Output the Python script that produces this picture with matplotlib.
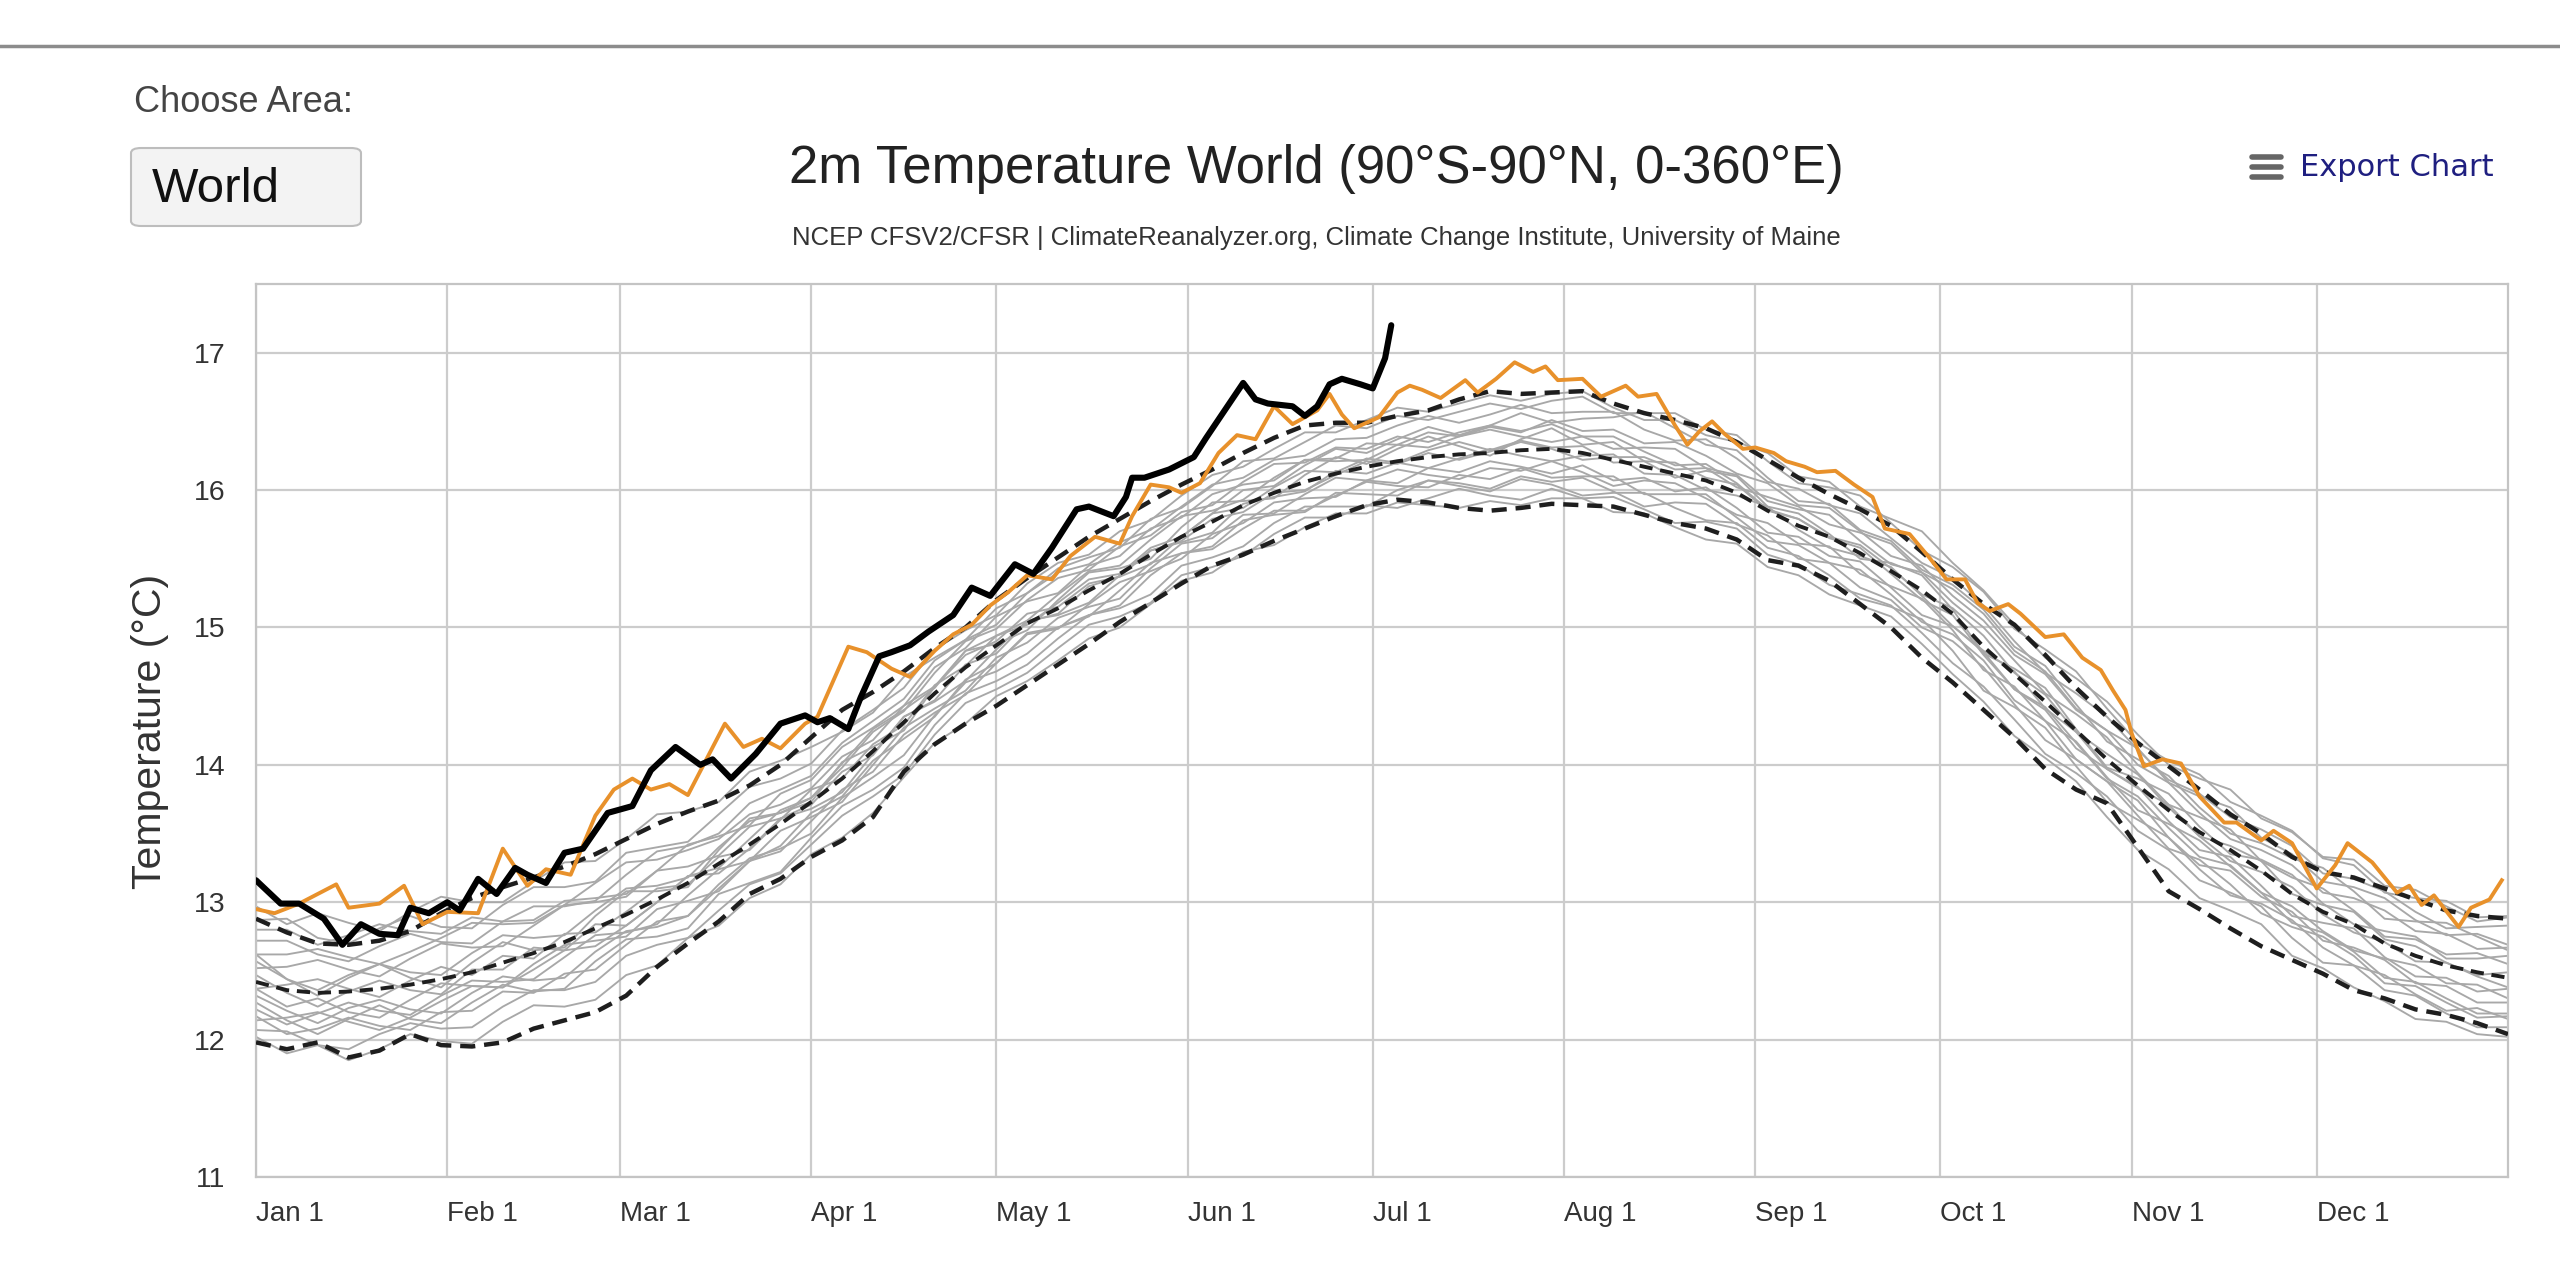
import numpy as np
import matplotlib.pyplot as plt
from matplotlib.lines import Line2D
from matplotlib.patches import FancyBboxPatch

# ---- data ----
month_day = [0, 31, 59, 90, 120, 151, 181, 212, 243, 273, 304, 334]
month_lab = ['Jan 1', 'Feb 1', 'Mar 1', 'Apr 1', 'May 1', 'Jun 1',
             'Jul 1', 'Aug 1', 'Sep 1', 'Oct 1', 'Nov 1', 'Dec 1']

# 5-day grid used by the climatology curves and the grey year lines
clim_day = list(range(0, 366, 5))

clim_mean = [12.42, 12.36, 12.34, 12.35, 12.37, 12.40, 12.44, 12.49, 12.56, 12.63,
             12.71, 12.81, 12.91, 13.02, 13.14, 13.28, 13.42, 13.57, 13.73, 13.90,
             14.10, 14.31, 14.52, 14.71, 14.87, 15.03, 15.14, 15.27, 15.39, 15.53,
             15.66, 15.77, 15.89, 15.98, 16.06, 16.12, 16.17, 16.21, 16.24, 16.26,
             16.27, 16.29, 16.30, 16.27, 16.22, 16.17, 16.12, 16.07, 15.98, 15.85,
             15.74, 15.66, 15.54, 15.41, 15.27, 15.10, 14.86, 14.66, 14.46, 14.25,
             14.04, 13.85, 13.67, 13.51, 13.38, 13.23, 13.06, 12.93, 12.84, 12.70,
             12.61, 12.54, 12.49, 12.45]
clim_upper = [12.88, 12.78, 12.70, 12.69, 12.72, 12.79, 12.92, 13.03, 13.11, 13.18,
              13.26, 13.35, 13.46, 13.57, 13.66, 13.74, 13.85, 14.00, 14.20, 14.40,
              14.53, 14.68, 14.85, 15.00, 15.20, 15.36, 15.51, 15.66, 15.79, 15.92,
              16.04, 16.15, 16.27, 16.38, 16.47, 16.49, 16.49, 16.54, 16.58, 16.66,
              16.72, 16.70, 16.71, 16.72, 16.63, 16.56, 16.51, 16.45, 16.35, 16.22,
              16.09, 15.97, 15.86, 15.74, 15.55, 15.35, 15.17, 15.02, 14.80, 14.56,
              14.35, 14.16, 13.99, 13.82, 13.64, 13.50, 13.33, 13.22, 13.18, 13.10,
              13.02, 12.94, 12.90, 12.88]
clim_lower = [11.98, 11.93, 11.98, 11.87, 11.92, 12.04, 11.96, 11.95, 11.98, 12.08,
              12.14, 12.20, 12.32, 12.53, 12.70, 12.86, 13.06, 13.17, 13.33, 13.45,
              13.62, 13.95, 14.15, 14.30, 14.43, 14.58, 14.73, 14.88, 15.04, 15.18,
              15.32, 15.45, 15.53, 15.63, 15.72, 15.81, 15.89, 15.93, 15.91, 15.87,
              15.85, 15.87, 15.90, 15.89, 15.88, 15.82, 15.76, 15.72, 15.64, 15.49,
              15.45, 15.34, 15.17, 15.00, 14.78, 14.60, 14.40, 14.20, 13.97, 13.82,
              13.72, 13.40, 13.08, 12.95, 12.81, 12.68, 12.58, 12.48, 12.36, 12.30,
              12.22, 12.18, 12.12, 12.04]

# a sample of the earlier years (grey spaghetti)
grey_years = [
    [12.07, 12.06, 11.96, 11.93, 12.04, 12.12, 12.08, 12.09, 12.24, 12.36,
     12.36, 12.42, 12.61, 12.69, 12.74, 12.94, 13.13, 13.21, 13.42, 13.63,
     13.77, 13.93, 14.22, 14.45, 14.55, 14.67, 14.85, 15.02, 15.08, 15.18,
     15.38, 15.44, 15.52, 15.68, 15.80, 15.80, 15.89, 15.87, 15.94, 16.01,
     15.96, 15.93, 16.01, 15.94, 15.95, 15.86, 15.76, 15.77, 15.72, 15.53,
     15.46, 15.31, 15.24, 15.16, 14.96, 14.74, 14.57, 14.33, 14.08, 13.94,
     13.77, 13.52, 13.38, 13.16, 13.07, 12.97, 12.74, 12.56, 12.54, 12.36,
     12.32, 12.19, 12.09, 12.09],
    [12.32, 12.21, 12.12, 12.23, 12.29, 12.22, 12.19, 12.34, 12.46, 12.43,
     12.45, 12.64, 12.79, 12.82, 12.90, 13.13, 13.32, 13.39, 13.50, 13.76,
     13.91, 14.07, 14.36, 14.60, 14.68, 14.81, 15.00, 15.09, 15.16, 15.38,
     15.54, 15.57, 15.72, 15.85, 15.85, 15.96, 16.06, 16.03, 16.02, 16.11,
     16.08, 16.16, 16.09, 16.10, 16.10, 15.97, 15.97, 15.97, 15.80, 15.63,
     15.60, 15.47, 15.42, 15.24, 15.04, 14.95, 14.76, 14.47, 14.32, 14.04,
     13.88, 13.74, 13.47, 13.27, 13.23, 13.04, 12.93, 12.72, 12.67, 12.58,
     12.41, 12.39, 12.27, 12.27],
    [12.47, 12.34, 12.24, 12.35, 12.43, 12.36, 12.33, 12.51, 12.51, 12.67,
     12.65, 12.84, 12.83, 13.00, 13.19, 13.21, 13.39, 13.61, 13.68, 13.80,
     14.08, 14.35, 14.46, 14.61, 14.84, 15.05, 15.09, 15.18, 15.38, 15.56,
     15.62, 15.69, 15.90, 15.95, 15.99, 16.14, 16.12, 16.20, 16.16, 16.23,
     16.30, 16.25, 16.21, 16.25, 16.26, 16.12, 16.11, 16.00, 15.96, 15.88,
     15.71, 15.58, 15.52, 15.44, 15.23, 15.01, 14.83, 14.68, 14.41, 14.24,
     13.97, 13.83, 13.71, 13.48, 13.30, 13.22, 13.11, 12.91, 12.78, 12.71,
     12.57, 12.56, 12.46, 12.38],
    [12.57, 12.44, 12.36, 12.47, 12.55, 12.49, 12.47, 12.63, 12.76, 12.74,
     12.76, 12.94, 13.10, 13.12, 13.18, 13.40, 13.59, 13.65, 13.76, 14.01,
     14.26, 14.40, 14.56, 14.83, 14.94, 15.05, 15.24, 15.41, 15.45, 15.64,
     15.81, 15.85, 15.93, 16.09, 16.22, 16.21, 16.22, 16.33, 16.31, 16.39,
     16.44, 16.39, 16.35, 16.39, 16.30, 16.31, 16.30, 16.16, 16.11, 15.92,
     15.86, 15.82, 15.63, 15.46, 15.40, 15.18, 15.00, 14.76, 14.52, 14.37,
     14.20, 13.94, 13.71, 13.62, 13.53, 13.30, 13.18, 13.10, 12.94, 12.75,
     12.73, 12.62, 12.63, 12.55],
    [12.72, 12.72, 12.62, 12.57, 12.68, 12.77, 12.71, 12.70, 12.86, 12.97,
     12.97, 13.01, 13.20, 13.37, 13.41, 13.50, 13.72, 13.82, 13.92, 14.16,
     14.32, 14.48, 14.76, 14.91, 15.02, 15.25, 15.40, 15.46, 15.62, 15.71,
     15.88, 16.04, 16.09, 16.22, 16.25, 16.37, 16.38, 16.47, 16.54, 16.49,
     16.55, 16.62, 16.56, 16.57, 16.57, 16.44, 16.36, 16.37, 16.23, 16.06,
     16.01, 15.89, 15.83, 15.65, 15.47, 15.36, 15.16, 14.90, 14.67, 14.52,
     14.35, 14.11, 13.89, 13.79, 13.62, 13.53, 13.41, 13.21, 13.17, 13.08,
     12.93, 12.81, 12.82, 12.83],
    [12.22, 12.11, 12.19, 12.27, 12.21, 12.18, 12.32, 12.43, 12.42, 12.44,
     12.60, 12.76, 12.78, 12.84, 13.05, 13.24, 13.30, 13.41, 13.65, 13.77,
     14.03, 14.19, 14.35, 14.62, 14.74, 14.95, 14.99, 15.17, 15.33, 15.41,
     15.50, 15.68, 15.76, 15.91, 15.94, 15.95, 16.07, 16.15, 16.11, 16.08,
     16.16, 16.14, 16.21, 16.13, 16.03, 16.07, 16.05, 15.94, 15.82, 15.76,
     15.61, 15.59, 15.39, 15.30, 15.21, 14.98, 14.69, 14.57, 14.32, 14.17,
     13.91, 13.67, 13.57, 13.45, 13.26, 13.07, 12.97, 12.79, 12.65, 12.59,
     12.54, 12.41, 12.40, 12.30],
    [12.37, 12.40, 12.44, 12.37, 12.31, 12.43, 12.53, 12.47, 12.61, 12.59,
     12.77, 12.78, 12.93, 13.10, 13.13, 13.33, 13.38, 13.60, 13.82, 13.90,
     14.15, 14.29, 14.58, 14.72, 14.94, 15.02, 15.18, 15.35, 15.39, 15.58,
     15.66, 15.83, 15.87, 16.02, 16.14, 16.13, 16.23, 16.20, 16.29, 16.35,
     16.29, 16.36, 16.31, 16.32, 16.20, 16.21, 16.20, 16.09, 16.04, 15.85,
     15.79, 15.66, 15.60, 15.43, 15.24, 15.14, 14.94, 14.67, 14.51, 14.24,
     14.08, 13.93, 13.69, 13.48, 13.41, 13.30, 13.06, 12.98, 12.93, 12.73,
     12.68, 12.56, 12.47, 12.49],
    [12.27, 12.14, 12.04, 12.15, 12.25, 12.15, 12.12, 12.27, 12.40, 12.35,
     12.37, 12.57, 12.73, 12.75, 12.81, 13.06, 13.14, 13.22, 13.47, 13.70,
     13.82, 13.98, 14.29, 14.52, 14.61, 14.73, 14.92, 15.09, 15.14, 15.24,
     15.45, 15.51, 15.59, 15.76, 15.88, 15.88, 15.88, 16.00, 16.07, 16.03,
     15.99, 16.08, 16.04, 15.96, 15.98, 15.98, 15.87, 15.78, 15.76, 15.58,
     15.52, 15.38, 15.21, 15.15, 15.06, 14.83, 14.54, 14.42, 14.27, 13.99,
     13.73, 13.60, 13.47, 13.24, 13.05, 12.99, 12.87, 12.67, 12.54, 12.47,
     12.33, 12.21, 12.23, 12.15],
    [12.87, 12.88, 12.74, 12.70, 12.81, 12.90, 12.82, 12.81, 12.98, 13.11,
     13.11, 13.15, 13.36, 13.40, 13.44, 13.64, 13.84, 13.90, 14.01, 14.25,
     14.40, 14.56, 14.84, 14.98, 15.09, 15.32, 15.47, 15.53, 15.70, 15.78,
     15.96, 16.11, 16.17, 16.30, 16.42, 16.42, 16.51, 16.60, 16.57, 16.63,
     16.69, 16.65, 16.70, 16.72, 16.60, 16.51, 16.51, 16.40, 16.35, 16.27,
     16.10, 16.06, 15.88, 15.79, 15.70, 15.47, 15.27, 15.02, 14.78, 14.63,
     14.46, 14.22, 14.00, 13.90, 13.82, 13.61, 13.51, 13.33, 13.31, 13.12,
     13.09, 12.97, 12.86, 12.89],
    [12.02, 11.90, 11.96, 11.85, 11.93, 12.04, 11.99, 11.97, 12.13, 12.25,
     12.24, 12.29, 12.47, 12.54, 12.74, 12.83, 13.03, 13.13, 13.35, 13.47,
     13.65, 13.91, 14.16, 14.30, 14.50, 14.61, 14.76, 14.92, 15.00, 15.17,
     15.34, 15.40, 15.55, 15.60, 15.73, 15.83, 15.83, 15.91, 15.89, 15.87,
     15.92, 15.89, 15.94, 15.94, 15.84, 15.83, 15.73, 15.64, 15.61, 15.44,
     15.38, 15.24, 15.16, 15.08, 14.88, 14.66, 14.46, 14.21, 14.05, 13.88,
     13.62, 13.38, 13.24, 13.03, 12.94, 12.84, 12.61, 12.52, 12.38, 12.28,
     12.15, 12.13, 12.04, 12.02],
    [12.62, 12.62, 12.66, 12.60, 12.55, 12.64, 12.74, 12.85, 12.84, 12.85,
     12.98, 13.14, 13.29, 13.31, 13.38, 13.46, 13.64, 13.71, 13.83, 14.06,
     14.18, 14.43, 14.57, 14.80, 14.90, 15.10, 15.15, 15.32, 15.37, 15.56,
     15.63, 15.79, 15.84, 15.98, 16.00, 16.11, 16.21, 16.19, 16.27, 16.22,
     16.28, 16.35, 16.30, 16.22, 16.24, 16.24, 16.15, 16.16, 16.02, 15.95,
     15.88, 15.75, 15.69, 15.61, 15.40, 15.28, 15.10, 14.83, 14.68, 14.41,
     14.25, 14.12, 13.87, 13.77, 13.69, 13.47, 13.35, 13.15, 13.11, 13.03,
     12.87, 12.76, 12.77, 12.69],
    [12.14, 12.16, 12.20, 12.13, 12.07, 12.16, 12.28, 12.39, 12.38, 12.51,
     12.65, 12.68, 12.83, 13.00, 13.19, 13.25, 13.46, 13.67, 13.76, 13.98,
     14.24, 14.39, 14.67, 14.90, 14.99, 15.20, 15.36, 15.42, 15.59, 15.67,
     15.84, 15.89, 16.06, 16.19, 16.20, 16.31, 16.30, 16.39, 16.35, 16.42,
     16.47, 16.43, 16.48, 16.39, 16.39, 16.28, 16.18, 16.19, 16.05, 15.86,
     15.79, 15.65, 15.58, 15.39, 15.20, 15.09, 14.80, 14.55, 14.42, 14.16,
     13.90, 13.77, 13.54, 13.33, 13.27, 13.07, 12.85, 12.78, 12.64, 12.45,
     12.42, 12.30, 12.19, 12.19],
    [12.80, 12.80, 12.69, 12.76, 12.84, 12.79, 12.77, 12.89, 12.86, 12.87,
     13.01, 13.03, 13.06, 13.23, 13.26, 13.34, 13.55, 13.61, 13.71, 13.95,
     14.07, 14.35, 14.47, 14.73, 14.81, 15.04, 15.10, 15.30, 15.37, 15.46,
     15.66, 15.83, 16.00, 16.03, 16.18, 16.30, 16.27, 16.37, 16.46, 16.40,
     16.47, 16.56, 16.49, 16.52, 16.53, 16.57, 16.45, 16.33, 16.29, 16.09,
     15.92, 15.90, 15.71, 15.63, 15.42, 15.31, 15.13, 14.86, 14.72, 14.44,
     14.17, 14.04, 13.92, 13.69, 13.50, 13.43, 13.32, 13.25, 13.08, 12.88,
     12.86, 12.85, 12.75, 12.65],
    [12.37, 12.24, 12.30, 12.20, 12.16, 12.29, 12.41, 12.39, 12.38, 12.55,
     12.69, 12.72, 12.75, 12.95, 13.01, 13.08, 13.30, 13.52, 13.62, 13.73,
     14.00, 14.27, 14.41, 14.54, 14.78, 14.89, 15.07, 15.15, 15.21, 15.43,
     15.61, 15.65, 15.82, 15.83, 15.97, 16.09, 16.07, 16.05, 16.16, 16.13,
     16.21, 16.17, 16.12, 16.18, 16.07, 16.09, 15.99, 16.02, 15.87, 15.69,
     15.66, 15.52, 15.48, 15.29, 15.09, 15.01, 14.82, 14.55, 14.40, 14.12,
     13.97, 13.84, 13.59, 13.38, 13.33, 13.12, 12.90, 12.85, 12.81, 12.60,
     12.46, 12.45, 12.35, 12.37],
    [12.52, 12.53, 12.58, 12.51, 12.46, 12.59, 12.70, 12.67, 12.68, 12.83,
     12.98, 13.00, 13.04, 13.23, 13.42, 13.48, 13.56, 13.79, 13.89, 14.13,
     14.27, 14.43, 14.71, 14.85, 15.08, 15.19, 15.25, 15.45, 15.52, 15.72,
     15.80, 15.97, 16.04, 16.07, 16.22, 16.23, 16.34, 16.33, 16.42, 16.39,
     16.46, 16.42, 16.51, 16.43, 16.44, 16.34, 16.35, 16.25, 16.12, 16.05,
     15.89, 15.87, 15.70, 15.52, 15.45, 15.23, 15.05, 14.80, 14.66, 14.40,
     14.25, 14.00, 13.87, 13.65, 13.46, 13.38, 13.27, 13.07, 13.03, 12.94,
     12.79, 12.77, 12.66, 12.67],
    [12.17, 12.04, 12.08, 12.16, 12.10, 12.07, 12.20, 12.21, 12.35, 12.34,
     12.48, 12.51, 12.69, 12.86, 12.90, 13.10, 13.30, 13.37, 13.59, 13.82,
     13.95, 14.22, 14.38, 14.51, 14.74, 14.96, 15.00, 15.08, 15.27, 15.47,
     15.54, 15.59, 15.78, 15.82, 15.84, 15.98, 15.97, 15.96, 16.07, 16.05,
     16.01, 16.10, 16.06, 16.09, 15.99, 15.88, 15.91, 15.90, 15.75, 15.67,
     15.50, 15.47, 15.29, 15.20, 15.00, 14.90, 14.71, 14.44, 14.18, 14.04,
     13.88, 13.63, 13.39, 13.31, 13.13, 12.92, 12.82, 12.75, 12.61, 12.41,
     12.39, 12.27, 12.16, 12.17],
    [12.62, 12.44, 12.32, 12.45, 12.55, 12.45, 12.38, 12.56, 12.71, 12.65,
     12.67, 12.90, 13.08, 13.08, 13.11, 13.38, 13.61, 13.65, 13.73, 14.02,
     14.13, 14.25, 14.57, 14.83, 14.88, 14.98, 15.20, 15.40, 15.43, 15.50,
     15.73, 15.91, 15.92, 15.94, 16.11, 16.24, 16.19, 16.30, 16.39, 16.32,
     16.25, 16.37, 16.45, 16.33, 16.35, 16.21, 16.09, 16.14, 16.10, 15.88,
     15.83, 15.68, 15.50, 15.47, 15.38, 15.13, 14.81, 14.70, 14.56, 14.26,
     13.98, 13.90, 13.79, 13.55, 13.35, 13.31, 13.20, 12.99, 12.84, 12.79,
     12.75, 12.59, 12.59, 12.61],
    [12.97, 12.84, 12.92, 12.85, 12.79, 12.93, 13.04, 13.00, 13.00, 13.15,
     13.29, 13.30, 13.46, 13.64, 13.66, 13.73, 13.95, 14.03, 14.13, 14.24,
     14.38, 14.64, 14.78, 14.91, 15.14, 15.25, 15.43, 15.51, 15.58, 15.79,
     15.87, 16.03, 16.21, 16.23, 16.35, 16.47, 16.45, 16.54, 16.51, 16.57,
     16.63, 16.59, 16.65, 16.68, 16.56, 16.56, 16.56, 16.44, 16.40, 16.21,
     16.05, 16.02, 15.96, 15.76, 15.56, 15.44, 15.26, 14.99, 14.84, 14.68,
     14.41, 14.16, 14.03, 13.93, 13.73, 13.63, 13.52, 13.32, 13.27, 13.07,
     13.03, 13.01, 12.89, 12.90],
]

# highlighted warm year (orange)
orange_day = [0, 3, 7, 13, 15, 20, 24, 27, 31, 36,
              40, 44, 47, 51, 55, 58, 61, 64, 67, 70,
              73, 76, 79, 82, 85, 89, 91, 96, 99, 103,
              106, 110, 113, 116, 119, 122, 125, 129, 132, 136,
              140, 142, 145, 148, 150, 153, 156, 159, 162, 165,
              168, 172, 174, 176, 178, 182, 185, 187, 189, 192,
              196, 198, 201, 204, 207, 209, 211, 215, 218, 222,
              224, 227, 230, 232, 234, 236, 238, 241, 243, 246,
              248, 251, 253, 256, 259, 262, 264, 268, 271, 274,
              277, 279, 281, 284, 286, 290, 293, 296, 299, 301,
              303, 304, 306, 309, 312, 315, 319, 321, 325, 327,
              330, 334, 337, 339, 343, 347, 349, 351, 353, 357,
              359, 362, 364]
orange_temp = [12.95, 12.92, 12.99, 13.13, 12.96, 12.99, 13.12, 12.84, 12.93, 12.92,
               13.39, 13.12, 13.24, 13.20, 13.63, 13.82, 13.90, 13.82, 13.86, 13.78,
               14.04, 14.30, 14.13, 14.19, 14.12, 14.30, 14.35, 14.86, 14.82, 14.70,
               14.64, 14.83, 14.95, 15.02, 15.16, 15.26, 15.38, 15.35, 15.52, 15.66,
               15.61, 15.81, 16.04, 16.02, 15.98, 16.05, 16.27, 16.40, 16.37, 16.61,
               16.48, 16.58, 16.70, 16.55, 16.45, 16.53, 16.71, 16.76, 16.73, 16.67,
               16.80, 16.71, 16.81, 16.93, 16.86, 16.90, 16.80, 16.81, 16.68, 16.76,
               16.68, 16.70, 16.47, 16.33, 16.43, 16.50, 16.41, 16.30, 16.31, 16.27,
               16.21, 16.17, 16.13, 16.14, 16.04, 15.95, 15.72, 15.68, 15.52, 15.35,
               15.35, 15.18, 15.12, 15.17, 15.10, 14.93, 14.95, 14.78, 14.69, 14.54,
               14.40, 14.23, 13.99, 14.04, 14.01, 13.77, 13.58, 13.58, 13.45, 13.52,
               13.43, 13.10, 13.27, 13.43, 13.29, 13.07, 13.12, 12.98, 13.05, 12.82,
               12.96, 13.02, 13.16]

# current year (black), ends early July
black_day = [0, 4, 7, 11, 14, 17, 20, 23, 25, 28,
             31, 33, 36, 39, 42, 44, 47, 50, 53, 57,
             61, 64, 68, 72, 74, 77, 81, 85, 89, 91,
             93, 96, 98, 101, 103, 106, 109, 113, 116, 119,
             123, 126, 129, 133, 135, 139, 141, 142, 144, 146,
             148, 152, 154, 157, 160, 162, 164, 168, 170, 172,
             174, 176, 179, 181, 183, 184]
black_temp = [13.16, 12.99, 12.99, 12.88, 12.69, 12.84, 12.77, 12.76, 12.96, 12.92,
              13.00, 12.94, 13.17, 13.06, 13.25, 13.20, 13.14, 13.36, 13.39, 13.65,
              13.70, 13.96, 14.13, 14.00, 14.04, 13.90, 14.08, 14.30, 14.36, 14.31,
              14.34, 14.26, 14.49, 14.79, 14.82, 14.87, 14.97, 15.09, 15.29, 15.23,
              15.46, 15.39, 15.58, 15.86, 15.88, 15.81, 15.95, 16.09, 16.09, 16.12,
              16.15, 16.24, 16.38, 16.58, 16.78, 16.66, 16.63, 16.61, 16.54, 16.61,
              16.77, 16.81, 16.77, 16.74, 16.96, 17.20]

# ---- figure ----
W, H = 2560, 1265
fig = plt.figure(figsize=(W / 100, H / 100), dpi=100)
sans = ['Liberation Sans', 'DejaVu Sans']


def fx(x):
    return x / W


def fy(y):
    return 1 - y / H


ax = fig.add_axes([fx(256), fy(1177), (2508 - 256) / W, (1177 - 284) / H])

for yr in grey_years:
    ax.plot(clim_day, yr, color='#a8a8a8', lw=1.35, zorder=2)

dash = (0, (3.4, 2.0))
ax.plot(clim_day, clim_upper, color='#1e1e1e', lw=3.2, ls=dash, zorder=3)
ax.plot(clim_day, clim_mean, color='#1e1e1e', lw=2.8, ls=dash, zorder=3)
ax.plot(clim_day, clim_lower, color='#1e1e1e', lw=3.2, ls=dash, zorder=3)
ax.plot(orange_day, orange_temp, color='#e8912b', lw=2.8, zorder=4)
ax.plot(black_day, black_temp, color='black', lw=4.4, zorder=5,
        solid_joinstyle='round', solid_capstyle='round')

ax.set_xlim(0, 365)
ax.set_ylim(11, 17.5)
ax.set_xticks(month_day)
ax.set_xticklabels(month_lab, family=sans, fontsize=20, color='#333333')
for lab in ax.get_xticklabels():
    lab.set_ha('left')
ax.set_yticks(range(11, 18))
ax.set_yticklabels([str(v) for v in range(11, 18)], family=sans, fontsize=20.5,
                   color='#333333')
ax.tick_params(axis='x', length=0, pad=17)
ax.tick_params(axis='y', length=0, pad=22)
ax.grid(color='#cccccc', lw=1.6)
ax.set_axisbelow(True)
for s in ax.spines.values():
    s.set_color('#c4c4c4')
    s.set_linewidth(1.6)

fig.text(fx(150), fy(731), 'Temperature (°C)', rotation=90, ha='center',
         va='center', fontsize=29.5, family=sans, color='#333333')

# ---- page decorations ----
fig.add_artist(Line2D([0, 1], [fy(46), fy(46)], color='#8c8c8c', lw=2.5))

fig.text(fx(134), fy(103), 'Choose Area:', ha='left', va='center',
         fontsize=26, family=sans, color='#444444')
box = FancyBboxPatch((fx(131), fy(226)), fx(230), (226 - 148) / H,
                     boxstyle='round,pad=0,rounding_size=0.004',
                     transform=fig.transFigure, facecolor='#f3f3f3',
                     edgecolor='#bdbdbd', lw=1.5)
fig.add_artist(box)
fig.text(fx(152), fy(190), 'World', ha='left', va='center',
         fontsize=35.5, family=sans, color='#111111')

fig.text(fx(1316), fy(169), '2m Temperature World (90°S-90°N, 0-360°E)',
         ha='center', va='center', fontsize=38, family=sans, color='#222222')
fig.text(fx(1316), fy(238),
         'NCEP CFSV2/CFSR | ClimateReanalyzer.org, Climate Change Institute, '
         'University of Maine',
         ha='center', va='center', fontsize=18.5, family=sans, color='#333333')

for yy in (157, 167, 177):
    fig.add_artist(Line2D([fx(2252), fx(2281)], [fy(yy), fy(yy)],
                          color='#666666', lw=4, solid_capstyle='round'))
fig.text(fx(2300), fy(168), 'Export Chart', ha='left', va='center',
         fontsize=22, family='DejaVu Sans', color='#1f1f80')

fig.savefig('out.png', dpi=100)
